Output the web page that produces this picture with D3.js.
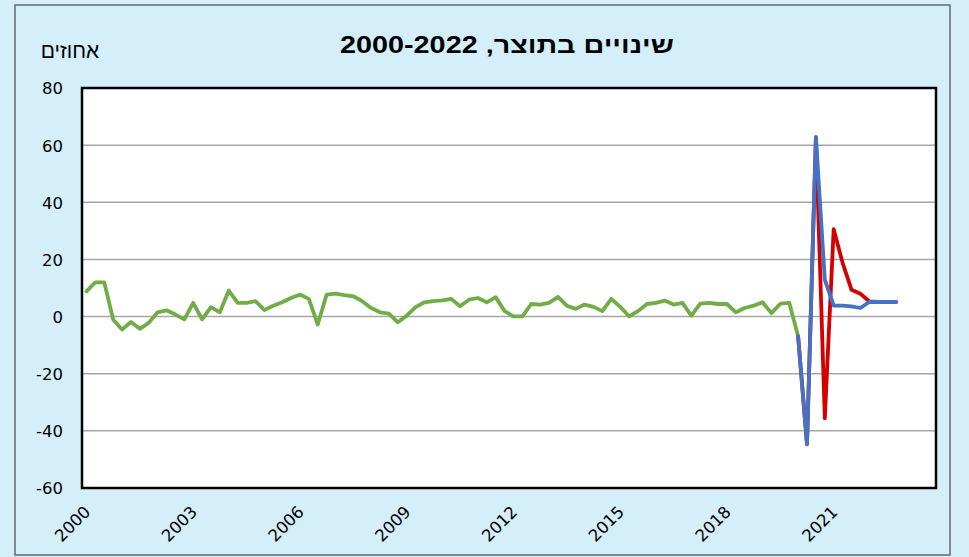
<!DOCTYPE html>
<html><head><meta charset="utf-8">
<script src="https://cdn.jsdelivr.net/npm/d3@7"></script>
<style>html,body{margin:0;padding:0;background:#d4eefa;}svg{display:block;}</style>
</head><body>
<svg id="chart" width="969" height="557"></svg>
<script>
// ---- data ----
const startYear = 2000;
const nYears = 24; // category axis spans 2000..2023 (quarterly)
const tickYears = [2000, 2003, 2006, 2009, 2012, 2015, 2018, 2021];
const yTicks = [80, 60, 40, 20, 0, -20, -40, -60];
const titleText = "שינויים בתוצר, 2000-2022";
const unitText = "אחוזים";
// green: actual series 2000Q1..2020Q1
const greenValues = [8.8, 12.0, 12.0, -1.0, -4.5, -1.9, -4.3, -2.2, 1.5, 2.2,
  0.7, -1.0, 4.8, -1.0, 3.3, 1.5, 9.1, 4.8, 4.8, 5.4,
  2.3, 3.8, 5.0, 6.5, 7.7, 6.2, -2.8, 7.7, 8.0, 7.5,
  7.1, 5.4, 3.0, 1.5, 1.0, -2.0, 0.3, 3.3, 5.0, 5.4,
  5.7, 6.2, 3.6, 5.9, 6.5, 5.0, 6.8, 1.9, 0.1, 0.1,
  4.4, 4.2, 4.8, 6.9, 3.8, 2.7, 4.2, 3.4, 1.9, 6.2,
  3.4, 0.1, 1.9, 4.4, 4.8, 5.6, 4.2, 4.8, 0.3, 4.5,
  4.8, 4.4, 4.4, 1.5, 3.0, 3.8, 5.0, 1.2, 4.5, 4.8,
  -6.9];
const covidStart = 80; // index where the two scenario series begin (2020Q1)
const redValues = [-6.9, -44.7, 62.8, -35.6, 30.6, 18.8, 9.4, 8.0, 5.3, 5.1, 5.1, 5.1];
const blueValues = [-6.9, -44.7, 62.8, 12.9, 3.8, 3.8, 3.6, 3.0, 5.1, 5.1, 5.1, 5.1];

// categories (quarters)
const categories = [];
for (let yr = startYear; yr < startYear + nYears; yr++) for (let q = 1; q <= 4; q++) categories.push(yr + "Q" + q);

// ---- layout ----
const svg = d3.select("#chart");
const W = 969, H = 557;
const plot = {left: 82, right: 936, top: 88, bottom: 488};

svg.append("rect").attr("x", 0).attr("y", 0).attr("width", W).attr("height", H).attr("fill", "#d4eefa");
svg.append("rect").attr("x", 15).attr("y", 5).attr("width", 935).attr("height", 550)
  .attr("fill", "#d4eefa").attr("stroke", "#5f6a72").attr("stroke-width", 1.5);

const x = d3.scaleBand().domain(categories).range([plot.left, plot.right]);
const y = d3.scaleLinear().domain([-60, 80]).range([plot.bottom, plot.top]);
const cx = c => x(c) + x.bandwidth() / 2;

svg.append("rect").attr("x", plot.left).attr("y", plot.top)
  .attr("width", plot.right - plot.left).attr("height", plot.bottom - plot.top).attr("fill", "#fff");

// gridlines
svg.append("g").selectAll("line").data(yTicks.filter(t => t !== 80 && t !== -60)).join("line")
  .attr("x1", plot.left).attr("x2", plot.right)
  .attr("y1", d => y(d)).attr("y2", d => y(d))
  .attr("stroke", "#a6a6a6").attr("stroke-width", 1.5);

// y axis labels
const yAxis = d3.axisLeft(y).tickValues(yTicks).tickSize(0).tickPadding(0).tickFormat(d => String(d));
const gy = svg.append("g").attr("transform", `translate(${plot.left - 19},0)`).call(yAxis);
gy.select(".domain").remove();
gy.selectAll("text").attr("font-family", "'DejaVu Sans', Verdana, sans-serif").attr("font-size", 16.5)
  .attr("fill", "#000").attr("dy", "0.36em");

// x axis labels
const xAxis = d3.axisBottom(x).tickValues(tickYears.map(t => t + "Q1")).tickSize(0).tickFormat(d => d.slice(0, 4));
const gx = svg.append("g").attr("transform", `translate(0,${plot.bottom})`).call(xAxis);
gx.select(".domain").remove();
gx.selectAll(".tick text")
  .attr("font-family", "'DejaVu Sans', Verdana, sans-serif").attr("font-size", 16.5).attr("fill", "#000")
  .attr("text-anchor", "end").attr("y", 0).attr("dy", 0)
  .attr("transform", "translate(5,25) rotate(-45)");

// lines
const line = d3.line().defined(d => d.v != null).x(d => cx(categories[d.i])).y(d => y(d.v));
const greenData = greenValues.map((v, i) => ({i, v}));
const redData = redValues.map((v, k) => ({i: covidStart + k, v}));
const blueData = blueValues.map((v, k) => ({i: covidStart + k, v}));

const series = [
  {data: greenData, color: "#70ad47"},
  {data: redData, color: "#d40000"},
  {data: blueData, color: "#4472c4"}
];
svg.append("g").selectAll("path").data(series).join("path")
  .attr("d", s => line(s.data)).attr("fill", "none")
  .attr("stroke", s => s.color).attr("stroke-width", 3.8)
  .attr("stroke-linejoin", "round").attr("stroke-linecap", "round");

// plot border
svg.append("rect").attr("x", plot.left).attr("y", plot.top)
  .attr("width", plot.right - plot.left).attr("height", plot.bottom - plot.top)
  .attr("fill", "none").attr("stroke", "#000").attr("stroke-width", 2.5);

// title and unit
svg.append("text").attr("x", 507).attr("y", 53).attr("text-anchor", "middle")
  .attr("direction", "rtl")
  .attr("textLength", 334).attr("lengthAdjust", "spacingAndGlyphs")
  .attr("font-family", "'Liberation Sans', Arial, sans-serif")
  .attr("font-weight", "bold").attr("font-size", 23).attr("fill", "#000").text(titleText);
svg.append("text").attr("x", 70).attr("y", 58).attr("text-anchor", "middle")
  .attr("font-family", "'Liberation Sans', Arial, sans-serif")
  .attr("font-size", 21).attr("fill", "#000").text(unitText);
</script>
</body></html>
